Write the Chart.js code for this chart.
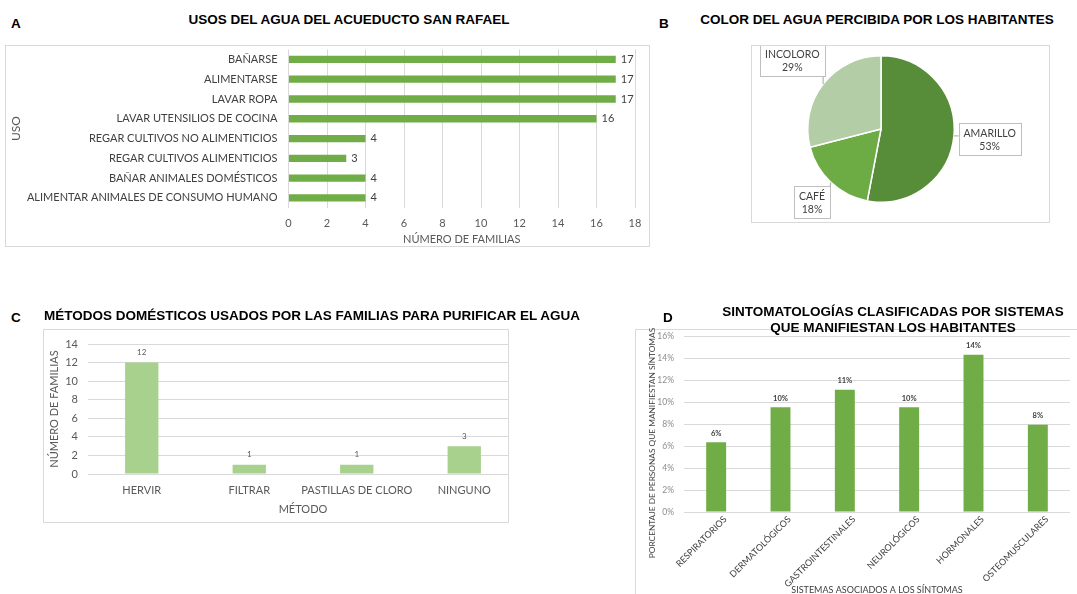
<!DOCTYPE html>
<html><head><meta charset="utf-8">
<script src="https://cdn.jsdelivr.net/npm/chart.js@4.4.0/dist/chart.umd.min.js"></script>
<style>
body{margin:0;width:1077px;height:594px;background:#fff;position:relative;overflow:hidden;font-family:"Liberation Sans",Arial,sans-serif;}
.t{position:absolute;font-weight:bold;font-size:13.5px;line-height:16px;color:#000;white-space:nowrap;text-align:center;width:700px;z-index:3}
.l{position:absolute;font-weight:bold;font-size:13.5px;line-height:16px;color:#000;z-index:3}
.box{position:absolute;border:1px solid #d9d9d9;box-sizing:border-box;z-index:2;pointer-events:none}
.wrap{position:absolute;overflow:hidden;z-index:1}
.wrap canvas{position:absolute;left:0;top:0}
.yt{position:absolute;font-family:Lato,sans-serif;font-size:8.3px;line-height:10px;color:#404040;white-space:nowrap;text-align:center;width:260px;transform:rotate(-90deg);z-index:3}
</style></head><body>

<div class="l" style="left:11px;top:16px">A</div>
<div class="t" style="left:-1px;top:12px">USOS DEL AGUA DEL ACUEDUCTO SAN RAFAEL</div>
<div class="box" style="left:5px;top:45px;width:645px;height:202px"></div>
<div class="wrap" style="left:6px;top:46px;width:643px;height:200px"><canvas id="cA" width="643" height="200"></canvas></div>

<div class="l" style="left:659px;top:16px">B</div>
<div class="t" style="left:527px;top:12px">COLOR DEL AGUA PERCIBIDA POR LOS HABITANTES</div>
<div class="box" style="left:751px;top:45px;width:299px;height:178px"></div>
<div class="wrap" style="left:752px;top:46px;width:297px;height:176px"><canvas id="cB" width="297" height="176"></canvas></div>

<div class="l" style="left:11px;top:310px">C</div>
<div class="t" style="left:-38px;top:308px">MÉTODOS DOMÉSTICOS USADOS POR LAS FAMILIAS PARA PURIFICAR EL AGUA</div>
<div class="box" style="left:43px;top:329px;width:466px;height:194px"></div>
<div class="wrap" style="left:44px;top:330px;width:464px;height:192px"><canvas id="cC" width="490" height="192"></canvas></div>

<div class="l" style="left:663px;top:310px">D</div>
<div class="t" style="left:543px;top:304px">SINTOMATOLOGÍAS CLASIFICADAS POR SISTEMAS</div>
<div class="t" style="left:543px;top:320px">QUE MANIFIESTAN LOS HABITANTES</div>
<div class="box" style="left:635px;top:329px;width:460px;height:280px"></div>
<div class="wrap" style="left:636px;top:330px;width:441px;height:264px"><canvas id="cD" width="441" height="270"></canvas></div>
<div class="yt" style="left:522px;top:438px">PORCENTAJE DE PERSONAS QUE MANIFIESTAN SÍNTOMAS</div>

<script>
// ---- data ----
const usosLabels = ['BAÑARSE','ALIMENTARSE','LAVAR ROPA','LAVAR UTENSILIOS DE COCINA','REGAR CULTIVOS NO ALIMENTICIOS','REGAR CULTIVOS ALIMENTICIOS','BAÑAR ANIMALES DOMÉSTICOS','ALIMENTAR ANIMALES DE CONSUMO HUMANO'];
const usosFamilias = [17,17,17,16,4,3,4,4];
const usosTicks = [0,2,4,6,8,10,12,14,16,18];

const colorLabels = ['AMARILLO','CAFÉ','INCOLORO'];
const colorPorcentaje = [53,18,29];

const metodoLabels = ['HERVIR','FILTRAR','PASTILLAS DE CLORO','NINGUNO'];
const metodoFamilias = [12,1,1,3];
const metodoTicks = [0,2,4,6,8,10,12,14];

const sistemaLabels = ['RESPIRATORIOS','DERMATOLÓGICOS','GASTROINTESTINALES','NEUROLÓGICOS','HORMONALES','OSTEOMUSCULARES'];
const sistemaPorcentaje = [6.35,9.52,11.11,9.52,14.29,7.94];
const sistemaTicks = [0,2,4,6,8,10,12,14,16];

Chart.defaults.font.family = 'Lato, "Open Sans", sans-serif';
Chart.defaults.animation = false;
Chart.defaults.responsive = false;
Chart.defaults.plugins.legend.display = false;
Chart.defaults.plugins.tooltip.enabled = false;

function fixSize(prop, val){
  return function(s){ s[prop] = val; s.paddingTop = 0; s.paddingBottom = 0; s.paddingLeft = 0; s.paddingRight = 0; };
}
function valueLabels(font, color, offset, fmt){
  return {id:'valueLabels', afterDatasetsDraw(chart){
    const ctx = chart.ctx, meta = chart.getDatasetMeta(0), data = chart.data.datasets[0].data;
    ctx.save(); ctx.font = font; ctx.fillStyle = color; ctx.textBaseline = 'middle';
    meta.data.forEach((el,i)=>{
      const txt = fmt(data[i]);
      if (chart.options.indexAxis === 'y'){ ctx.textAlign='left'; ctx.fillText(txt, el.x+offset, el.y); }
      else { ctx.textAlign='center'; ctx.fillText(txt, el.x, el.y-offset); }
    });
    ctx.restore();
  }};
}
const gridCol = '#d9d9d9';

// ---- A ----
new Chart(document.getElementById('cA'), {
  type:'bar',
  data:{labels:usosLabels, datasets:[{data:usosFamilias, backgroundColor:'#70ad47', barPercentage:0.37, categoryPercentage:1}]},
  options:{
    indexAxis:'y',
    layout:{padding:{left:0,right:14,top:3.5,bottom:0}},
    scales:{
      x:{min:0,max:18,
         afterBuildTicks(s){ s.ticks = usosTicks.map(v=>({value:v})); },
         afterFit:fixSize('height',38.2),
         grid:{color:gridCol, drawTicks:false}, border:{display:false},
         ticks:{color:'#595959', font:{size:11}, padding:9},
         title:{display:true, text:'NÚMERO DE FAMILIAS', color:'#595959', font:{size:11}, padding:{top:0,bottom:0}}},
      y:{afterFit:fixSize('width',282.5),
         grid:{display:false, drawTicks:false}, border:{display:false},
         ticks:{color:'#404040', font:{size:11}, padding:11, autoSkip:false},
         title:{display:true, text:'USO', color:'#595959', font:{size:12}, padding:{top:3,bottom:0}}}
    }
  },
  plugins:[valueLabels('11px Lato','#404040',5,v=>String(v))]
});

// ---- B ----
const pieLabels = {id:'pieLabels', afterDatasetsDraw(chart){
  const ctx = chart.ctx, meta = chart.getDatasetMeta(0), data = chart.data.datasets[0].data;
  const total = data.reduce((a,b)=>a+b,0);
  ctx.save(); ctx.font = '10.5px Lato'; const lh = 13;
  meta.data.forEach((arc,i)=>{
    const p = arc.getProps(['x','y','startAngle','endAngle','outerRadius'], true);
    const mid = (p.startAngle+p.endAngle)/2, ux = Math.cos(mid), uy = Math.sin(mid), r = p.outerRadius;
    const l1 = chart.data.labels[i], l2 = Math.round(data[i]/total*100)+'%';
    const w = Math.round(Math.max(ctx.measureText(l1).width, ctx.measureText(l2).width)+10), h = 2*lh+6;
    const d = r + 3.5 + Math.abs(ux)*w/2 + Math.abs(uy)*h/2;
    const cx = p.x+ux*d, cy = p.y+uy*d, ex = p.x+ux*r, ey = p.y+uy*r;
    const bx = Math.max(cx-w/2, Math.min(ex, cx+w/2)), by = Math.max(cy-h/2, Math.min(ey, cy+h/2));
    ctx.strokeStyle = '#a6a6a6'; ctx.lineWidth = 1;
    ctx.beginPath(); ctx.moveTo(ex,ey); ctx.lineTo(bx,by); ctx.stroke();
    const rx = Math.round(cx-w/2)+0.5, ry = Math.round(cy-h/2)+0.5;
    ctx.fillStyle = '#fff'; ctx.fillRect(rx,ry,w,h);
    ctx.strokeStyle = '#bfbfbf'; ctx.strokeRect(rx,ry,w,h);
    ctx.fillStyle = '#404040'; ctx.textAlign = 'center'; ctx.textBaseline = 'middle';
    ctx.fillText(l1, cx, cy-lh/2+0.5); ctx.fillText(l2, cx, cy+lh/2+0.5);
  });
  ctx.restore();
}};
new Chart(document.getElementById('cB'), {
  type:'pie',
  data:{labels:colorLabels, datasets:[{data:colorPorcentaje, backgroundColor:['#578c38','#6dab45','#b3cea6'], borderColor:'#ffffff', borderWidth:1.5}]},
  options:{layout:{padding:{left:55,right:94,top:9,bottom:19}}},
  plugins:[pieLabels]
});

// ---- C ----
new Chart(document.getElementById('cC'), {
  type:'bar',
  data:{labels:metodoLabels, datasets:[{data:metodoFamilias, backgroundColor:'#a9d18e', barPercentage:0.31, categoryPercentage:1}]},
  options:{
    layout:{padding:{left:0,right:16,top:14,bottom:0}},
    scales:{
      x:{afterFit:fixSize('height',48),
         grid:{display:false, drawTicks:false}, border:{display:false},
         ticks:{color:'#595959', font:{size:11}, padding:10, autoSkip:false, maxRotation:0},
         title:{display:true, text:'MÉTODO', color:'#595959', font:{size:11}, padding:{top:0,bottom:6}}},
      y:{min:0,max:14,
         afterBuildTicks(s){ s.ticks = metodoTicks.map(v=>({value:v})); },
         afterFit:fixSize('width',44),
         grid:{color:gridCol, drawTicks:false}, border:{display:false},
         ticks:{color:'#595959', font:{size:11}, padding:10},
         title:{display:true, text:'NÚMERO DE FAMILIAS', color:'#595959', font:{size:11}, padding:{top:4,bottom:0}}}
    }
  },
  plugins:[valueLabels('8px Lato','#595959',10,v=>String(v))]
});

// ---- D ----
new Chart(document.getElementById('cD'), {
  type:'bar',
  data:{labels:sistemaLabels, datasets:[{data:sistemaPorcentaje, backgroundColor:'#70ad47', barPercentage:0.31, categoryPercentage:1}]},
  options:{
    layout:{padding:{left:0,right:7,top:6,bottom:0}},
    scales:{
      x:{afterFit:fixSize('height',88),
         grid:{display:false, drawTicks:false}, border:{display:false},
         ticks:{color:'#404040', font:{size:9}, padding:2, autoSkip:false, minRotation:45, maxRotation:45, labelOffset:9},
         title:{display:true, text:'SISTEMAS ASOCIADOS A LOS SÍNTOMAS', color:'#404040', font:{size:9}, padding:{top:0,bottom:5}}},
      y:{min:0,max:16,
         afterBuildTicks(s){ s.ticks = sistemaTicks.map(v=>({value:v})); },
         afterFit:fixSize('width',48),
         grid:{color:gridCol, drawTicks:false}, border:{display:false},
         ticks:{color:'#8c8c8c', font:{size:8.5}, padding:10, callback:v=>v+'%'}}
    }
  },
  plugins:[valueLabels('bold 7.5px Lato','#404040',9,v=>Math.round(v)+'%')]
});
</script>
</body></html>
